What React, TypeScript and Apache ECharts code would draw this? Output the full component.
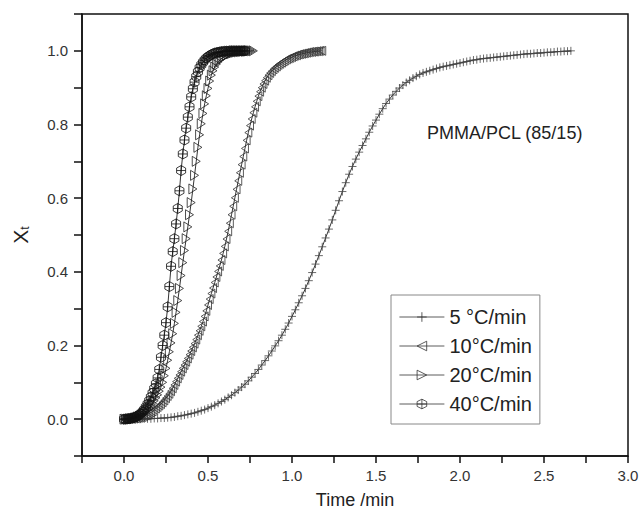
import React, { useEffect, useRef } from 'react';
import * as echarts from 'echarts';

// Time (min), Xt pairs
const rate5: number[][] = [
  [0.00,0.000],[0.02,0.000],[0.04,0.000],[0.06,0.000],[0.08,0.000],[0.10,0.000],[0.12,0.001],[0.14,0.001],
  [0.16,0.001],[0.18,0.002],[0.20,0.002],[0.22,0.003],[0.24,0.003],[0.26,0.004],[0.28,0.005],[0.30,0.006],
  [0.32,0.008],[0.34,0.009],[0.36,0.011],[0.38,0.013],[0.40,0.015],[0.42,0.017],[0.44,0.020],[0.46,0.023],
  [0.48,0.026],[0.50,0.030],[0.52,0.034],[0.54,0.038],[0.56,0.043],[0.58,0.048],[0.60,0.053],[0.62,0.059],
  [0.64,0.065],[0.66,0.072],[0.68,0.079],[0.70,0.087],[0.72,0.095],[0.74,0.104],[0.76,0.114],[0.78,0.124],
  [0.80,0.135],[0.82,0.147],[0.84,0.159],[0.86,0.172],[0.88,0.185],[0.90,0.199],[0.92,0.213],[0.94,0.228],
  [0.96,0.244],[0.98,0.261],[1.00,0.279],[1.02,0.297],[1.04,0.316],[1.06,0.335],[1.08,0.355],[1.10,0.376],
  [1.12,0.398],[1.14,0.421],[1.16,0.444],[1.18,0.468],[1.20,0.492],[1.22,0.516],[1.24,0.541],[1.26,0.567],
  [1.28,0.593],[1.30,0.618],[1.32,0.642],[1.34,0.665],[1.36,0.686],[1.38,0.706],[1.40,0.725],[1.42,0.743],
  [1.44,0.761],[1.46,0.779],[1.48,0.796],[1.50,0.812],[1.52,0.828],[1.54,0.843],[1.56,0.857],[1.58,0.869],
  [1.60,0.880],[1.62,0.890],[1.64,0.899],[1.66,0.907],[1.68,0.914],[1.70,0.920],[1.72,0.926],[1.74,0.931],
  [1.76,0.936],[1.78,0.940],[1.80,0.943],[1.82,0.946],[1.84,0.949],[1.86,0.952],[1.88,0.955],[1.90,0.957],
  [1.92,0.959],[1.94,0.961],[1.96,0.963],[1.98,0.965],[2.00,0.967],[2.02,0.969],[2.04,0.971],[2.06,0.973],
  [2.08,0.975],[2.10,0.976],[2.12,0.978],[2.14,0.979],[2.16,0.980],[2.18,0.981],[2.20,0.982],[2.22,0.983],
  [2.24,0.984],[2.26,0.985],[2.28,0.986],[2.30,0.987],[2.32,0.988],[2.34,0.989],[2.36,0.990],[2.38,0.991],
  [2.40,0.992],[2.42,0.992],[2.44,0.993],[2.46,0.994],[2.48,0.994],[2.50,0.995],[2.52,0.996],[2.54,0.996],
  [2.56,0.997],[2.58,0.998],[2.60,0.998],[2.62,0.999],[2.64,0.999],[2.66,1.000]
];

const rate10: number[][] = [
  [0.00,0.000],[0.01,0.000],[0.02,0.000],[0.03,0.001],[0.04,0.001],[0.05,0.001],[0.06,0.002],[0.07,0.002],
  [0.08,0.003],[0.09,0.004],[0.10,0.005],[0.11,0.006],[0.12,0.008],[0.13,0.010],[0.14,0.012],[0.15,0.015],
  [0.16,0.018],[0.17,0.021],[0.18,0.025],[0.19,0.029],[0.20,0.033],[0.21,0.037],[0.22,0.041],[0.23,0.046],
  [0.24,0.051],[0.25,0.057],[0.26,0.063],[0.27,0.069],[0.28,0.076],[0.29,0.084],[0.30,0.093],[0.31,0.102],
  [0.32,0.111],[0.33,0.120],[0.34,0.129],[0.35,0.138],[0.36,0.147],[0.37,0.156],[0.38,0.165],[0.39,0.175],
  [0.40,0.185],[0.41,0.195],[0.42,0.205],[0.43,0.216],[0.44,0.228],[0.45,0.240],[0.46,0.252],[0.47,0.265],
  [0.48,0.279],[0.49,0.294],[0.50,0.310],[0.51,0.326],[0.52,0.341],[0.53,0.356],[0.54,0.371],[0.55,0.386],
  [0.56,0.401],[0.57,0.416],[0.58,0.432],[0.59,0.450],[0.60,0.469],[0.61,0.489],[0.62,0.510],[0.63,0.532],
  [0.64,0.555],[0.65,0.578],[0.66,0.601],[0.67,0.624],[0.68,0.647],[0.69,0.669],[0.70,0.691],[0.71,0.713],
  [0.72,0.735],[0.73,0.757],[0.74,0.778],[0.75,0.797],[0.76,0.815],[0.77,0.832],[0.78,0.848],[0.79,0.863],
  [0.80,0.877],[0.81,0.889],[0.82,0.900],[0.83,0.910],[0.84,0.919],[0.85,0.927],[0.86,0.934],[0.87,0.940],
  [0.88,0.945],[0.89,0.950],[0.90,0.954],[0.91,0.958],[0.92,0.962],[0.93,0.965],[0.94,0.968],[0.95,0.971],
  [0.96,0.974],[0.97,0.977],[0.98,0.979],[0.99,0.981],[1.00,0.983],[1.01,0.985],[1.02,0.987],[1.03,0.988],
  [1.04,0.990],[1.05,0.991],[1.06,0.992],[1.07,0.993],[1.08,0.994],[1.09,0.995],[1.10,0.996],[1.11,0.997],
  [1.12,0.997],[1.13,0.998],[1.14,0.998],[1.15,0.999],[1.16,0.999],[1.17,1.000],[1.18,1.000]
];

const rate20: number[][] = [
  [0.00,0.000],[0.01,0.000],[0.02,0.000],[0.03,0.001],[0.04,0.001],[0.05,0.002],[0.06,0.003],[0.07,0.004],
  [0.08,0.006],[0.09,0.008],[0.10,0.010],[0.11,0.013],[0.12,0.016],[0.13,0.020],[0.14,0.025],[0.15,0.030],
  [0.16,0.036],[0.17,0.043],[0.18,0.050],[0.19,0.058],[0.20,0.066],[0.21,0.076],[0.22,0.087],[0.23,0.100],
  [0.24,0.118],[0.25,0.138],[0.26,0.160],[0.27,0.183],[0.28,0.207],[0.29,0.232],[0.30,0.260],[0.31,0.290],
  [0.32,0.322],[0.33,0.355],[0.34,0.390],[0.35,0.425],[0.36,0.458],[0.37,0.490],[0.38,0.522],[0.39,0.555],
  [0.40,0.588],[0.41,0.625],[0.42,0.662],[0.43,0.700],[0.44,0.738],[0.45,0.772],[0.46,0.802],[0.47,0.830],
  [0.48,0.856],[0.49,0.878],[0.50,0.898],[0.51,0.918],[0.52,0.934],[0.53,0.946],[0.54,0.956],[0.55,0.964],
  [0.56,0.970],[0.57,0.975],[0.58,0.979],[0.59,0.982],[0.60,0.985],[0.61,0.988],[0.62,0.990],[0.63,0.992],
  [0.64,0.993],[0.65,0.995],[0.66,0.996],[0.67,0.997],[0.68,0.997],[0.69,0.998],[0.70,0.998],[0.71,0.999],
  [0.72,0.999],[0.73,0.999],[0.74,1.000],[0.75,1.000],[0.76,1.000],[0.77,1.000]
];

const rate40: number[][] = [
  [0.00,0.000],[0.01,0.000],[0.02,0.001],[0.03,0.001],[0.04,0.002],[0.05,0.003],[0.06,0.004],[0.07,0.006],
  [0.08,0.008],[0.09,0.011],[0.10,0.015],[0.11,0.020],[0.12,0.026],[0.13,0.033],[0.14,0.041],[0.15,0.050],
  [0.16,0.060],[0.17,0.071],[0.18,0.083],[0.19,0.096],[0.20,0.112],[0.21,0.135],[0.22,0.168],[0.23,0.200],
  [0.24,0.228],[0.25,0.262],[0.26,0.305],[0.27,0.360],[0.28,0.415],[0.29,0.455],[0.30,0.490],[0.31,0.530],
  [0.32,0.572],[0.33,0.620],[0.34,0.675],[0.35,0.720],[0.36,0.758],[0.37,0.790],[0.38,0.820],[0.39,0.848],
  [0.40,0.875],[0.41,0.897],[0.42,0.915],[0.43,0.930],[0.44,0.943],[0.45,0.954],[0.46,0.962],[0.47,0.969],
  [0.48,0.975],[0.49,0.980],[0.50,0.984],[0.51,0.987],[0.52,0.990],[0.53,0.992],[0.54,0.994],[0.55,0.995],
  [0.56,0.996],[0.57,0.997],[0.58,0.998],[0.59,0.998],[0.60,0.999],[0.61,0.999],[0.62,0.999],[0.63,1.000],
  [0.64,1.000],[0.65,1.000],[0.66,1.000],[0.67,1.000],[0.68,1.000],[0.69,1.000],[0.70,1.000],[0.71,1.000],
  [0.72,1.000]
];

const seriesNames = ['5 °C/min', '10°C/min', '20°C/min', '40°C/min'];
const annotation = 'PMMA/PCL (85/15)';
const xAxisTitle = 'Time /min';

const FONT = '"Liberation Sans", Arial, Helvetica, sans-serif';

const SYM_PLUS = 'path://M-10,0L10,0M0,-10L0,10';
const SYM_LTRI = 'path://M10,-10L-10,0L10,10Z';
const SYM_RTRI = 'path://M-10,-10L10,0L-10,10Z';
const SYM_HEX = 'path://M0,-10L8.66,-5L8.66,5L0,10L-8.66,5L-8.66,-5ZM-8.66,0L8.66,0M0,-10L0,10';

function mkSeries(name: string, data: number[][], symbol: string, size: number[], stroke: string) {
  return {
    name,
    type: 'line',
    data,
    symbol,
    symbolSize: size,
    showAllSymbol: true,
    lineStyle: { color: '#000', width: 0.8 },
    itemStyle: { color: 'rgba(255,255,255,0)', borderColor: stroke, borderWidth: 0.8 },
    emphasis: { disabled: true },
    z: 2,
  };
}

export default function App() {
  const ref = useRef<HTMLDivElement>(null);
  useEffect(() => {
    const chart = echarts.init(ref.current!, null, { renderer: 'svg' });
    const isMult = (v: number, s: number) => Math.abs(v / s - Math.round(v / s)) < 1e-6;
    chart.setOption({
      animation: false,
      backgroundColor: '#fff',
      textStyle: { fontFamily: FONT },
      grid: {
        left: 82, right: 12, top: 14, bottom: 61,
        show: true, borderColor: '#111', borderWidth: 1.5,
        outerBoundsMode: 'none',
      },
      xAxis: {
        type: 'value',
        min: -0.25, max: 3, interval: 0.25,
        axisLine: { onZero: false, lineStyle: { color: '#111', width: 1.5 } },
        axisTick: { show: true, inside: false, length: 7, lineStyle: { color: '#111', width: 1.5 } },
        axisLabel: {
          color: '#333', fontSize: 15, fontFamily: FONT, margin: 12,
          showMinLabel: true, showMaxLabel: true,
          formatter: (v: number) => (v >= -1e-9 && isMult(v, 0.5) ? v.toFixed(1) : ''),
        },
        splitLine: { show: false },
        name: xAxisTitle,
        nameLocation: 'middle',
        nameGap: 35,
        nameTextStyle: { color: '#222', fontSize: 18, fontFamily: FONT },
      },
      yAxis: {
        type: 'value',
        min: -0.1, max: 1.1, interval: 0.1,
        axisLine: { onZero: false, lineStyle: { color: '#111', width: 1.5 } },
        axisTick: { show: true, inside: false, length: 8, lineStyle: { color: '#111', width: 1.5 } },
        axisLabel: {
          color: '#333', fontSize: 15, fontFamily: FONT, margin: 14,
          formatter: (v: number) => (v >= -1e-9 && v <= 1 + 1e-9 && isMult(v, 0.2) ? v.toFixed(1) : ''),
        },
        splitLine: { show: false },
        name: '{x|X}{t|t}',
        nameLocation: 'middle',
        nameGap: 51,
        nameTextStyle: {
          color: '#222', fontFamily: FONT,
          rich: {
            x: { fontSize: 21, fontFamily: FONT, color: '#222' },
            t: { fontSize: 12, fontFamily: FONT, color: '#222', verticalAlign: 'bottom', padding: [10, 0, 0, 0] },
          },
        },
      },
      legend: {
        orient: 'vertical',
        left: 391, top: 295,
        padding: [12, 8, 10, 8],
        itemWidth: 45, itemHeight: 12, itemGap: 9,
        borderColor: '#888', borderWidth: 1,
        backgroundColor: '#fff',
        selectedMode: false,
        lineStyle: { color: '#333', width: 0.8 },
        itemStyle: { borderWidth: 0.8, borderColor: '#333', color: 'rgba(255,255,255,0)' },
        textStyle: { color: '#222', fontSize: 20, fontFamily: FONT },
        data: seriesNames,
      },
      graphic: [
        {
          type: 'text', left: 427, top: 124,
          style: { text: annotation, fill: '#222', fontSize: 18, fontFamily: FONT },
        },
      ],
      series: [
        mkSeries(seriesNames[0], rate5, SYM_PLUS, [8, 8], '#444'),
        mkSeries(seriesNames[1], rate10, SYM_LTRI, [7, 9], '#333'),
        mkSeries(seriesNames[2], rate20, SYM_RTRI, [8, 10], '#222'),
        mkSeries(seriesNames[3], rate40, SYM_HEX, [9, 10], '#111'),
      ],
    });
    return () => chart.dispose();
  }, []);
  return (
    <div
      ref={ref}
      style={{ position: 'fixed', left: 0, top: 0, width: 640, height: 517, background: '#fff' }}
    />
  );
}
